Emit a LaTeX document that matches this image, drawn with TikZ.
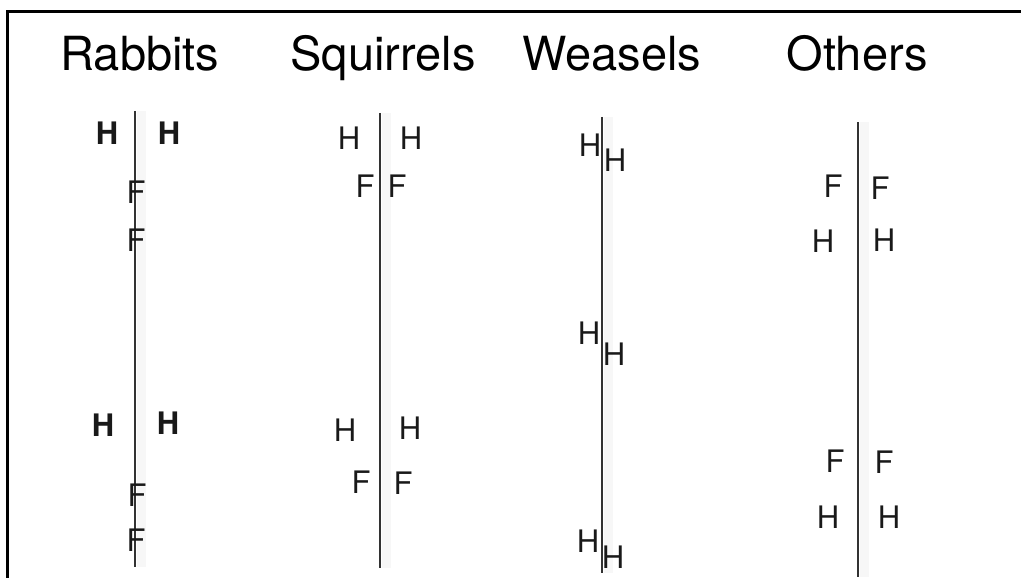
\documentclass[tikz,border=0pt]{standalone}
\usepackage{fontspec}
\setmainfont{TeX Gyre Heros}
\definecolor{axisgray}{RGB}{50,50,50}
\definecolor{shadegray}{RGB}{247,247,247}
\tikzset{
  title/.style={font=\fontsize{47}{52}\selectfont,anchor=base,inner sep=0pt},
  letter/.style={font=\fontsize{31}{34}\selectfont,inner sep=0pt,text=black!90},
  boldletter/.style={letter,font=\fontsize{31}{34}\selectfont\bfseries},
  axis/.style={draw=axisgray,line width=1.5pt},
  axisshade/.style={draw=shadegray,line width=9pt},
  frame/.style={draw=black,line width=3pt}
}

\begin{document}
\begin{tikzpicture}[x=1pt,y=-1pt]
  \useasboundingbox (0,0) rectangle (1021,578);
  \draw[frame] (7.5,578) -- (7.5,11.5) -- (1021,11.5);

  \node[title] (rabbits)   at (140,71) {Rabbits};
  \node[title] (squirrels) at (383,71) {Squirrels};
  \node[title] (weasels)   at (612,71) {Weasels};
  \node[title] (others)    at (857,71) {Others};

  \foreach \n/\x/\top/\bot in {rab/135/111/567, squ/380/113/568,
                               wea/602/117/573, oth/858/122/577} {
    \coordinate (\n-top) at (\x,\top);
    \coordinate (\n-bot) at (\x,\bot);
    \draw[axisshade] ([xshift=6pt]\n-top) -- ([xshift=6pt]\n-bot);
    \draw[axis] (\n-top) -- (\n-bot);
  }

  \foreach \x/\y [count=\i] in {107/133, 169/133, 103/425, 168/423}
    \node[boldletter] (rabh-\i) at (\x,\y) {H};
  \foreach \x/\y [count=\i] in {136/192, 136/240, 137/495, 136/540}
    \node[letter] (rabf-\i) at (\x,\y) {F};

  \foreach \x/\y/\t [count=\i] in {349/138/H, 411/138/H, 365/186/F, 397/186/F,
                                   345/430/H, 410/428/H, 361/482/F, 403/483/F}
    \node[letter] (squ-\i) at (\x,\y) {\t};

  \foreach \x/\y [count=\i] in {590/145, 615/160, 589/333, 614/354,
                                588/541, 613/557}
    \node[letter] (wea-\i) at (\x,\y) {H};

  \foreach \x/\y/\t [count=\i] in {833/186/F, 880/188/F, 823/241/H, 884/240/H,
                                   835/461/F, 884/462/F, 828/517/H, 889/517/H}
    \node[letter] (oth-\i) at (\x,\y) {\t};
\end{tikzpicture}
\end{document}
